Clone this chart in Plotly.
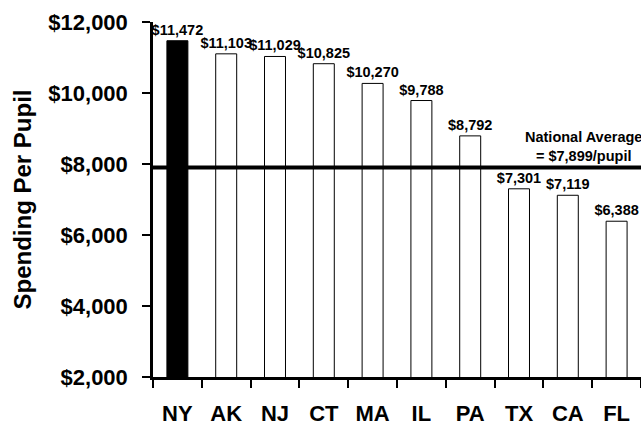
import plotly.graph_objects as go

# Per-pupil spending by state
states = ["NY", "AK", "NJ", "CT", "MA", "IL", "PA", "TX", "CA", "FL"]
spending = [11472, 11103, 11029, 10825, 10270, 9788, 8792, 7301, 7119, 6388]
national_average = 7899
y_ticks = [2000, 4000, 6000, 8000, 10000, 12000]
y_tick_labels = ["$2,000", "$4,000", "$6,000", "$8,000", "$10,000", "$12,000"]

FONT = "Liberation Sans, Arial, sans-serif"

fill_colors = ["black" if s == "NY" else "white" for s in states]

fig = go.Figure()
fig.add_trace(go.Bar(
    x=states,
    y=spending,
    width=0.43,
    marker=dict(color=fill_colors, line=dict(color="black", width=1)),
    text=[f"${v:,}" for v in spending],
    textposition="outside",
    constraintext="none",
    cliponaxis=False,
    textfont=dict(family=FONT, size=14.5, color="black", weight="bold"),
    hoverinfo="skip",
))

# National average reference line
fig.add_shape(
    type="line", xref="paper", yref="y",
    x0=0, x1=1, y0=national_average, y1=national_average,
    line=dict(color="black", width=4),
)
fig.add_annotation(
    xref="paper", yref="y", x=0.883, y=national_average,
    xanchor="center", yanchor="bottom", yshift=2,
    text=f"National Average<br>= ${national_average:,}/pupil",
    showarrow=False, align="center",
    font=dict(family=FONT, size=14.5, color="black", weight="bold"),
)

# Vertical axis title
fig.add_annotation(
    xref="paper", yref="paper", x=-0.2684, y=0.5,
    xanchor="center", yanchor="middle", textangle=-90,
    text="Spending Per Pupil", showarrow=False,
    font=dict(family=FONT, size=24, color="black", weight="bold"),
)

fig.update_layout(
    width=641, height=425,
    margin=dict(l=153, r=0, t=22, b=48),
    paper_bgcolor="white", plot_bgcolor="white",
    showlegend=False,
    xaxis=dict(
        type="category", range=[-0.5, 9.5], automargin=False,
        showline=True, linecolor="black", linewidth=2.5,
        ticks="outside", tickson="boundaries", ticklen=8, tickwidth=2, tickcolor="black",
        ticklabelstandoff=15,
        tickfont=dict(family=FONT, size=22, color="black", weight="bold"),
        showgrid=False, zeroline=False,
    ),
    yaxis=dict(
        range=[2000, 12000], automargin=False,
        tickvals=y_ticks, ticktext=y_tick_labels,
        showline=True, linecolor="black", linewidth=2.5,
        ticks="outside", ticklen=8, tickwidth=2, tickcolor="black",
        ticklabelstandoff=10,
        tickfont=dict(family=FONT, size=22, color="black", weight="bold"),
        showgrid=False, zeroline=False,
    ),
)

fig.write_html("out.html")
